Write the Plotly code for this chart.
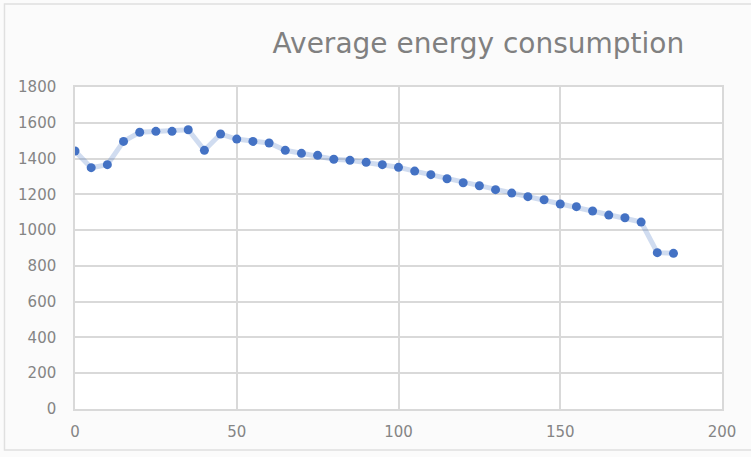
import plotly.graph_objects as go

# Sample index (every 5 units) and measured average energy consumption
x_values = [0, 5, 10, 15, 20, 25, 30, 35, 40, 45, 50, 55, 60, 65, 70, 75, 80, 85, 90,
            95, 100, 105, 110, 115, 120, 125, 130, 135, 140, 145, 150, 155, 160, 165,
            170, 175, 180, 185]
consumption = [1442, 1349, 1366, 1496, 1547, 1552, 1552, 1561, 1446, 1537, 1509, 1496,
               1487, 1446, 1429, 1418, 1396, 1390, 1379, 1366, 1351, 1330, 1310, 1287,
               1265, 1248, 1226, 1207, 1187, 1170, 1146, 1131, 1107, 1084, 1069, 1045,
               874, 870]

title_text = "Average energy consumption"
x_ticks = [0, 50, 100, 150, 200]
y_ticks = [0, 200, 400, 600, 800, 1000, 1200, 1400, 1600, 1800]

grid = "#d9d9d9"
label_gray = "#858585"
font_family = "DejaVu Sans"

fig = go.Figure()
fig.add_trace(go.Scatter(
    x=x_values,
    y=consumption,
    mode="lines+markers",
    line=dict(color="rgba(68,114,196,0.25)", width=5),
    marker=dict(color="#4472c4", size=9),
    showlegend=False,
))

fig.update_layout(
    width=751,
    height=457,
    margin=dict(l=75, r=29, t=87, b=48),
    paper_bgcolor="#fbfbfb",
    plot_bgcolor="#ffffff",
    font=dict(family=font_family, color=label_gray, size=15),
    title=dict(
        text=title_text,
        x=0.637,
        xanchor="center",
        y=0.905,
        yanchor="middle",
        font=dict(family=font_family, size=28, color="#808080"),
    ),
    xaxis=dict(
        range=[0, 200],
        tickvals=x_ticks,
        showgrid=True,
        gridcolor=grid,
        gridwidth=1.5,
        zeroline=False,
        showline=True,
        linecolor=grid,
        linewidth=1.5,
        mirror=True,
        ticks="outside",
        ticklen=8,
        tickcolor="rgba(0,0,0,0)",
        tickfont=dict(size=15, color=label_gray),
    ),
    yaxis=dict(
        range=[0, 1800],
        tickvals=y_ticks,
        showgrid=True,
        gridcolor=grid,
        gridwidth=1.5,
        zeroline=False,
        showline=True,
        linecolor=grid,
        linewidth=1.5,
        mirror=True,
        ticks="outside",
        ticklen=14,
        tickcolor="rgba(0,0,0,0)",
        tickfont=dict(size=15, color=label_gray),
    ),
    shapes=[dict(
        type="rect", xref="paper", yref="paper",
        x0=-0.109, x1=1.2, y0=-0.127, y1=1.258,
        line=dict(color="#e0e0e0", width=1.5),
        layer="below",
    )],
)

fig.write_html("out.html")
